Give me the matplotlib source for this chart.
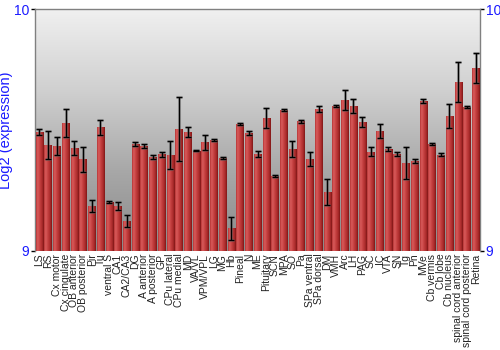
import numpy as np
import matplotlib
matplotlib.use("Agg")
import matplotlib.pyplot as plt
from matplotlib.colors import LinearSegmentedColormap

plt.rcParams['font.family'] = ['Liberation Sans', 'DejaVu Sans']

categories = ["LS", "RS", "Cx motor", "Cx cingulate", "OB anterior", "OB posterior",
              "Pir", "Tu", "ventral S", "CA1", "CA2/CA3", "DG", "A anterior",
              "A posterior", "GP", "CPu lateral", "CPu medial", "MD", "VA/VL",
              "VPM/VPL", "LG", "MG", "Hb", "Pineal", "N", "ME", "Pituitary", "SCN",
              "MPA", "SO", "Pa", "SPa ventral", "SPa dorsal", "DM", "VMH", "Arc",
              "LH", "PAG", "SC", "IC", "VTA", "SN", "Tg", "Pn", "MVe", "Cb vermis",
              "Cb lobe", "Cb nucleus", "spinal cord anterior", "spinal cord posterior",
              "Retina"]

values = [9.493, 9.438, 9.434, 9.529, 9.426, 9.379, 9.186, 9.511, 9.202, 9.186,
          9.124, 9.442, 9.433, 9.390, 9.399, 9.395, 9.504, 9.492, 9.415, 9.449,
          9.459, 9.383, 9.094, 9.526, 9.489, 9.401, 9.551, 9.310, 9.583, 9.421,
          9.537, 9.381, 9.587, 9.244, 9.600, 9.624, 9.600, 9.532, 9.410, 9.496,
          9.421, 9.401, 9.362, 9.372, 9.620, 9.442, 9.397, 9.558, 9.698, 9.596,
          9.757]

errors = [0.012, 0.056, 0.036, 0.058, 0.028, 0.052, 0.025, 0.030, 0.004, 0.017,
          0.025, 0.010, 0.008, 0.008, 0.010, 0.058, 0.131, 0.021, 0.003, 0.031,
          0.004, 0.004, 0.048, 0.004, 0.008, 0.014, 0.041, 0.004, 0.005, 0.034,
          0.006, 0.030, 0.014, 0.052, 0.005, 0.043, 0.028, 0.021, 0.019, 0.028,
          0.009, 0.010, 0.066, 0.007, 0.008, 0.003, 0.006, 0.051, 0.084, 0.004,
          0.061]

y_ticks = [9, 10]
y_label = "Log2 (expression)"

fig = plt.figure(figsize=(5, 3.5), dpi=100)
ax = fig.add_axes([0.07, 0.283, 0.89, 0.691])

n = len(categories)
x = np.arange(n)
ax.set_xlim(-0.5, n - 0.5)
ax.set_ylim(9, 10)

# background vertical gradient
bg = LinearSegmentedColormap.from_list("bg", ["#8a8a8a", "#a8a8a8", "#d0d0d0", "#f0f0f0"])
grad = np.linspace(0, 1, 256).reshape(-1, 1)
ax.imshow(grad, extent=[-0.5, n - 0.5, 9, 10], origin='lower', aspect='auto',
          cmap=bg, zorder=0)

bars = ax.bar(x, [v - 9 for v in values], bottom=9, width=0.84,
              color="#c04040", edgecolor="none", zorder=2)

barcm = LinearSegmentedColormap.from_list(
    "bar", ["#b53434", "#d85c5c", "#cc4848", "#bb3838", "#a82a2a", "#7e1616"])
hgrad = np.linspace(0, 1, 64).reshape(1, -1)
for b in bars:
    x0 = b.get_x()
    w = b.get_width()
    y0 = b.get_y()
    h = b.get_height()
    im = ax.imshow(hgrad, extent=[x0, x0 + w, y0, y0 + h], aspect='auto',
                   cmap=barcm, zorder=3)
    im.set_clip_path(b)

ax.errorbar(x, values, yerr=errors, fmt='none', ecolor='#777777', elinewidth=2.2,
            capsize=2.5, capthick=2.2, alpha=0.45, zorder=4)
ax.errorbar(x, values, yerr=errors, fmt='none', ecolor='black', elinewidth=1,
            capsize=2.2, capthick=1, zorder=5)

ax.set_xlim(-0.5, n - 0.5)
ax.set_ylim(9, 10)

ax.set_xticks(x)
ax.set_xticklabels(categories, rotation=90, fontsize=7.5, color="#222222")
ax.tick_params(axis='x', length=0, pad=2)

ax.set_yticks(y_ticks)
ax.set_yticklabels([str(t) for t in y_ticks])
ax.tick_params(axis='y', which='both', left=True, right=True, labelleft=True,
               labelright=True, length=3, width=1, color='black',
               labelcolor='#1a1aff', labelsize=10, pad=1)
ax.set_ylabel(y_label, color='#1a1aff', fontsize=10.5, labelpad=1)

for s in ['left', 'top', 'right']:
    ax.spines[s].set_color('#808080')
    ax.spines[s].set_linewidth(1)
ax.spines['bottom'].set_visible(False)

fig.savefig("out.png", dpi=100)
